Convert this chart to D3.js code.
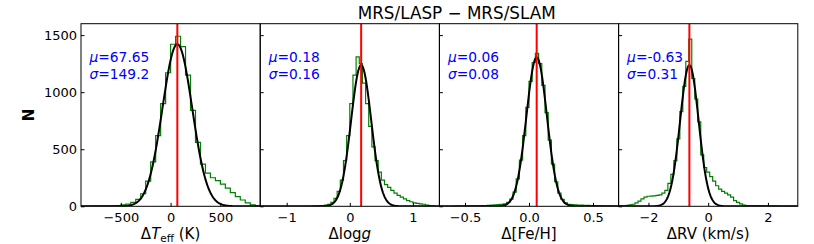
<!DOCTYPE html>
<html>
<head>
<meta charset="utf-8">
<script src="https://cdn.jsdelivr.net/npm/d3@7"></script>
<style>
  body { margin: 0; background: #fff; }
  text { font-family: 'DejaVu Sans', sans-serif; }
</style>
</head>
<body>
<div id="chart_area"></div>
<script>
// fit parameters per panel (Teff, logg, [Fe/H], RV)
const mus = [67.65, 0.18, 0.06, -0.63];
const sigmas = [149.2, 0.16, 0.08, 0.31];
const fitPeaks = [1420, 1237, 1305, 1237];
const muLabels = ['67.65', '0.18', '0.06', '-0.63'];
const sigmaLabels = ['149.2', '0.16', '0.08', '0.31'];
const xDomains = [[-900, 900], [-1.42, 1.42], [-0.7, 0.7], [-3, 3]];
const xTicks = [[-500, 0, 500], [-1, 0, 1], [-0.5, 0, 0.5], [-2, 0, 2]];
const xTickFormats = ['d', 'd', '.1f', 'd'];
const yTicks = [0, 500, 1000, 1500];
const binStarts = [-900, -0.6, -0.6, -3.05];
const binWidths = [50, 0.05, 0.025, 0.1];

// histogram counts
const teffCounts = [0, 0, 1, 1, 2, 2, 4, 7, 12, 20, 35, 60, 110, 220, 390, 620, 900, 1170, 1420, 1490,
  1400, 1150, 840, 560, 370, 290, 250, 225, 195, 160, 120, 85, 55, 30, 12, 3];
const loggCounts = [1, 2, 4, 6, 10, 18, 35, 70, 130, 230, 400, 620, 900, 1150, 1310, 1250, 1080, 900, 700, 520,
  400, 300, 230, 190, 165, 140, 115, 95, 80, 65, 50, 40, 30, 25, 22, 18, 10, 5, 2];
const fehCounts = [0, 0, 1, 1, 2, 2, 3, 4, 5, 6, 7, 8, 10, 12, 14, 17, 22, 35, 62, 125,
  240, 405, 620, 866, 1094, 1260, 1340, 1250, 1060, 820, 580, 370, 215, 115, 60, 30, 18, 14, 12, 11,
  10, 9, 8, 7, 6, 5, 3, 2, 1, 1, 0, 0];
const rvCounts = [3, 4, 5, 8, 12, 18, 30, 45, 65, 80, 88, 90, 92, 95, 100, 115, 140, 200, 280, 400,
  590, 830, 1050, 1270, 1465, 1120, 940, 740, 450, 340, 300, 260, 220, 180, 150, 130, 115, 100, 80, 50,
  35, 22, 10, 7, 5, 4, 4, 3, 3, 2, 2, 2, 1, 1, 0, 0, 0, 0, 0, 0, 0];
const allCounts = [teffCounts, loggCounts, fehCounts, rvCounts];

const title = 'MRS/LASP \u2212 MRS/SLAM';

const panelLeft = 81;
const panelTop = 23.7;
const panelWidth = 179.2;
const panelHeight = 182.6;

const svg = d3
  .select('#chart_area')
  .append('svg')
  .attr('width', 814)
  .attr('height', 244);

const y = d3.scaleLinear().domain([0, 1600]).range([panelHeight, 0]);

function drawXLabel(g, index) {
  const label = g
    .append('text')
    .attr('x', panelWidth / 2)
    .attr('y', panelHeight + 33)
    .attr('text-anchor', 'middle')
    .attr('font-size', 15)
    .attr('fill', 'black');
  if (index === 0) {
    label.append('tspan').text('\u0394');
    label.append('tspan').attr('font-style', 'italic').text('T');
    label.append('tspan').attr('font-size', 10.5).attr('dy', 3).text('eff');
    label.append('tspan').attr('dy', -3).text(' (K)');
  } else if (index === 1) {
    label.append('tspan').text('\u0394log');
    label.append('tspan').attr('font-style', 'italic').text('g');
  } else if (index === 2) {
    label.text('\u0394[Fe/H]');
  } else {
    label.text('\u0394RV (km/s)');
  }
}

function drawPanel(index) {
  const g = svg
    .append('g')
    .attr('transform', `translate(${panelLeft + index * panelWidth},${panelTop})`);
  const x = d3.scaleLinear().domain(xDomains[index]).range([0, panelWidth]);

  const clipId = 'clip' + index;
  g.append('clipPath')
    .attr('id', clipId)
    .append('rect')
    .attr('width', panelWidth)
    .attr('height', panelHeight);
  const plot = g.append('g').attr('clip-path', `url(#${clipId})`);

  // step histogram
  const counts = allCounts[index];
  const start = binStarts[index];
  const w = binWidths[index];
  const pts = [[start, 0]];
  counts.forEach((c, i) => {
    pts.push([start + i * w, c]);
    pts.push([start + (i + 1) * w, c]);
  });
  pts.push([start + counts.length * w, 0]);
  plot
    .append('path')
    .attr('d', d3.line().x((d) => x(d[0])).y((d) => y(d[1]))(pts))
    .attr('fill', 'none')
    .attr('stroke', 'green')
    .attr('stroke-width', 1.2);

  // gaussian fit from mu / sigma / peak
  const xs = d3.range(0, 401).map((i) => xDomains[index][0] + (i / 400) * (xDomains[index][1] - xDomains[index][0]));
  plot
    .append('path')
    .attr(
      'd',
      d3
        .line()
        .x((d) => x(d))
        .y((d) => y(fitPeaks[index] * Math.exp(-0.5 * ((d - mus[index]) / sigmas[index]) ** 2)))(xs)
    )
    .attr('fill', 'none')
    .attr('stroke', 'black')
    .attr('stroke-width', 2);

  plot
    .append('line')
    .attr('x1', x(mus[index]))
    .attr('x2', x(mus[index]))
    .attr('y1', 0)
    .attr('y2', panelHeight)
    .attr('stroke', 'red')
    .attr('stroke-width', 2);

  // axes, inward ticks
  const xAxis = g
    .append('g')
    .attr('transform', `translate(0,${panelHeight})`)
    .call(
      d3
        .axisBottom(x)
        .tickValues(xTicks[index])
        .tickFormat(d3.format(xTickFormats[index]))
        .tickSizeInner(-3.5)
        .tickSizeOuter(0)
        .tickPadding(6)
    );
  xAxis.select('.domain').remove();
  xAxis.selectAll('text').attr('font-size', 13).attr('font-family', 'DejaVu Sans').attr('fill', 'black');

  const yAxis = g.append('g').call(
    d3
      .axisLeft(y)
      .tickValues(yTicks)
      .tickFormat(d3.format('d'))
      .tickSizeInner(-3.5)
      .tickSizeOuter(0)
      .tickPadding(4)
  );
  yAxis.select('.domain').remove();
  yAxis.selectAll('text').attr('font-size', 13).attr('font-family', 'DejaVu Sans').attr('fill', 'black');
  if (index > 0) yAxis.selectAll('text').remove();

  g.append('rect')
    .attr('width', panelWidth)
    .attr('height', panelHeight)
    .attr('fill', 'none')
    .attr('stroke', 'black')
    .attr('stroke-width', 1);

  const stats = g.append('g').attr('fill', 'blue').attr('font-size', 13.8);
  const muText = stats.append('text').attr('x', 8.5).attr('y', 38.5);
  muText.append('tspan').attr('font-style', 'italic').text('\u03bc');
  muText.append('tspan').text('=' + muLabels[index]);
  const sigmaText = stats.append('text').attr('x', 8.5).attr('y', 55.5);
  sigmaText.append('tspan').attr('font-style', 'italic').text('\u03c3');
  sigmaText.append('tspan').text('=' + sigmaLabels[index]);

  drawXLabel(g, index);
}

[0, 1, 2, 3].forEach(drawPanel);

svg
  .append('text')
  .attr('x', 29)
  .attr('y', panelTop + panelHeight / 2)
  .attr('transform', `rotate(-90, 29, ${panelTop + panelHeight / 2})`)
  .attr('text-anchor', 'middle')
  .attr('dominant-baseline', 'central')
  .attr('font-size', 15)
  .attr('font-weight', 'bold')
  .text('N');

svg
  .append('text')
  .attr('x', 456.7)
  .attr('y', 19)
  .attr('text-anchor', 'middle')
  .attr('font-size', 16.8)
  .text(title);
</script>
</body>
</html>
